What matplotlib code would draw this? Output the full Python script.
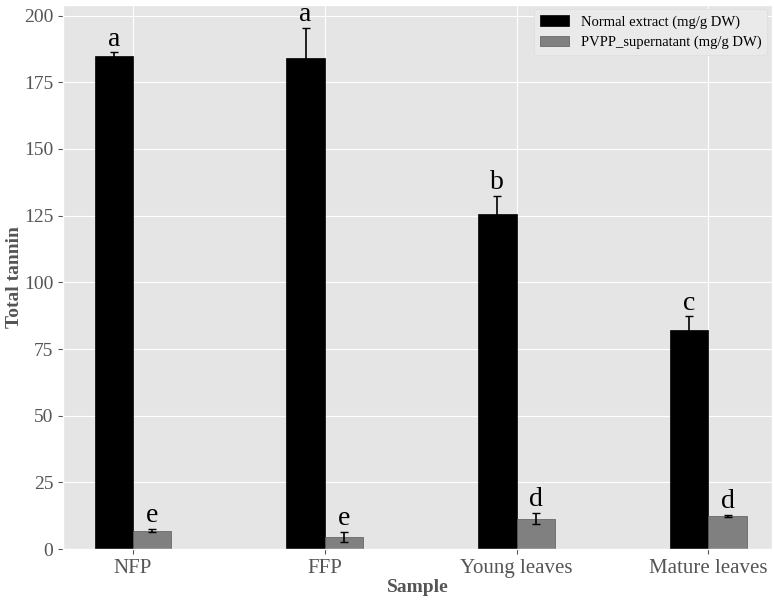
import numpy as np
import matplotlib
matplotlib.use('Agg')
import matplotlib.pyplot as plt

plt.style.use('ggplot')
plt.rcParams['font.family'] = ['Liberation Serif', 'DejaVu Serif']

samples = ['NFP', 'FFP', 'Young leaves', 'Mature leaves']
normal = [184.7, 184.1, 125.6, 82.2]
normal_err = [1.5, 11.3, 6.9, 5.0]
pvpp = [6.8, 4.4, 11.4, 12.4]
pvpp_err = [0.6, 1.9, 2.0, 0.3]
normal_letters = ['a', 'a', 'b', 'c']
pvpp_letters = ['e', 'e', 'd', 'd']

x = np.arange(len(samples))
w = 0.2

fig = plt.figure(figsize=(7.74, 6.01), dpi=100)
ax = fig.add_axes([0.0814, 0.0865, 0.9156, 0.9052])
ax.set_axisbelow(True)

ax.bar(x - w / 2, normal, w, yerr=normal_err, color='black', edgecolor='black',
       capsize=3, error_kw={'elinewidth': 1.2, 'ecolor': 'black'},
       label='Normal extract (mg/g DW)')
ax.bar(x + w / 2, pvpp, w, yerr=pvpp_err, color='#808080', edgecolor='#5a5a5a',
       capsize=3, error_kw={'elinewidth': 1.2, 'ecolor': 'black'},
       label='PVPP_supernatant (mg/g DW)')

# significance letters just above the error bars
for xi, v, e, s in zip(x - w / 2, normal, normal_err, normal_letters):
    ax.text(xi, v + e + 0.3, s, ha='center', va='bottom', fontsize=20, color='black')
for xi, v, e, s in zip(x + w / 2, pvpp, pvpp_err, pvpp_letters):
    ax.text(xi, v + e + 0.3, s, ha='center', va='bottom', fontsize=20, color='black')

ax.set_xticks(x)
ax.set_xticklabels(samples, fontsize=15, color='#555555')
ax.set_yticks(np.arange(0, 201, 25))
ax.tick_params(axis='y', labelsize=14, labelcolor='#555555')
ax.set_xlim(-0.365, 3.33)
ax.set_ylim(0, 204)
ax.set_xlabel('Sample', fontsize=14, fontweight='bold', color='#555555', labelpad=1)
ax.set_ylabel('Total tannin', fontsize=14, fontweight='bold', color='#555555')
ax.yaxis.set_label_coords(-0.056, 0.5)

leg = ax.legend(loc='upper right', fontsize=10.5, frameon=True, facecolor='#eaeaea',
                edgecolor='#dddddd', framealpha=1, borderaxespad=0.3)

fig.savefig('out.png', dpi=100)
